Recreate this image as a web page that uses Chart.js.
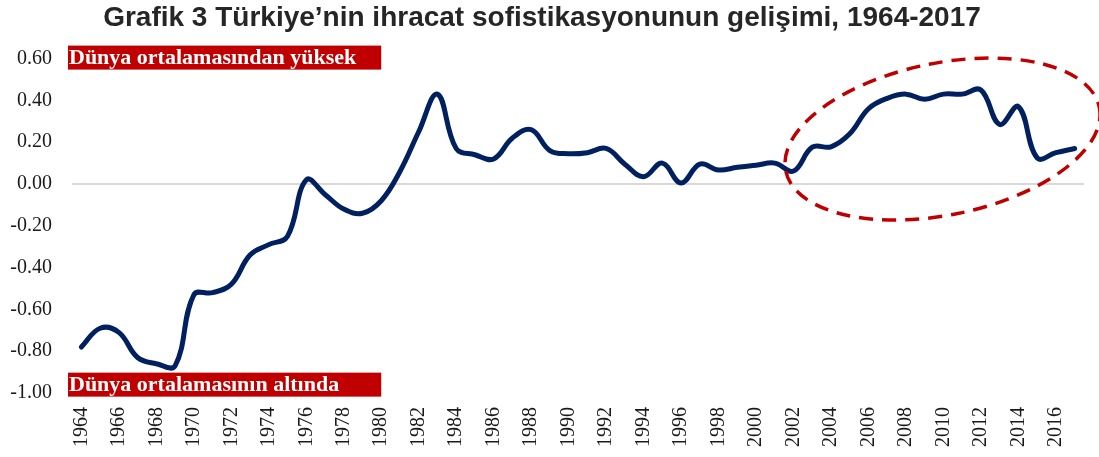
<!DOCTYPE html>
<html>
<head>
<meta charset="utf-8">
<script src="https://cdn.jsdelivr.net/npm/chart.js@4/dist/chart.umd.min.js"></script>
<style>
  html, body { margin: 0; padding: 0; background: #fff; }
  #wrap { width: 1099px; height: 457px; }
</style>
</head>
<body>
<div id="wrap"><canvas id="sofChart"></canvas></div>
<script>
// data
const years = ['1964','1965','1966','1967','1968','1969','1970','1971','1972','1973',
  '1974','1975','1976','1977','1978','1979','1980','1981','1982','1983',
  '1984','1985','1986','1987','1988','1989','1990','1991','1992','1993',
  '1994','1995','1996','1997','1998','1999','2000','2001','2002','2003',
  '2004','2005','2006','2007','2008','2009','2010','2011','2012','2013',
  '2014','2015','2016','2017'];
const sophistication = [-0.78, -0.69, -0.71, -0.83, -0.86, -0.87, -0.53, -0.52, -0.48, -0.34,
  -0.29, -0.25, 0.02, -0.05, -0.12, -0.14, -0.08, 0.06, 0.25, 0.43,
  0.17, 0.14, 0.12, 0.22, 0.26, 0.16, 0.145, 0.15, 0.17, 0.095,
  0.035, 0.10, 0.005, 0.095, 0.067, 0.08, 0.09, 0.10, 0.062, 0.176,
  0.178, 0.24, 0.36, 0.41, 0.43, 0.405, 0.43, 0.43, 0.45, 0.285,
  0.37, 0.125, 0.15, 0.17];
const yTicks = { min: -1.0, max: 0.6, step: 0.2 };
const titleText = 'Grafik 3 Türkiye’nin ihracat sofistikasyonunun gelişimi, 1964-2017';
const bandLabels = ['Dünya ortalamasından yüksek', 'Dünya ortalamasının altında'];

const red = '#c00000';
const navy = '#002060';

// red label boxes + dashed ellipse round the 2002-2017 part
const overlay = {
  id: 'overlay',
  afterDatasetsDraw(chart) {
    const { ctx, chartArea, scales: { x, y } } = chart;
    ctx.save();

    const left = chartArea.left - 4;
    const right = x.getPixelForValue(16);
    const boxH = 24;
    const centres = [y.getPixelForValue(0.6) - 1, y.getPixelForValue(-0.96)];
    ctx.font = 'bold 22px "Liberation Serif"';
    ctx.textBaseline = 'middle';
    centres.forEach((cy, i) => {
      ctx.fillStyle = red;
      ctx.fillRect(left, cy - boxH / 2, right - left, boxH);
      ctx.fillStyle = '#fff';
      ctx.fillText(bandLabels[i], left + 1, cy + 1);
    });

    // ellipse
    const cx = x.getPixelForValue(45.95);
    const cy = y.getPixelForValue(0.215);
    ctx.beginPath();
    ctx.ellipse(cx, cy, 160, 76, -0.2, 0, Math.PI * 2);
    ctx.strokeStyle = red;
    ctx.lineWidth = 3.5;
    ctx.setLineDash([14, 9]);
    ctx.stroke();
    ctx.restore();
  }
};

const ctx = document.getElementById('sofChart').getContext('2d');
new Chart(ctx, {
  type: 'line',
  data: {
    labels: years,
    datasets: [{
      data: sophistication,
      borderColor: navy,
      borderWidth: 5,
      borderCapStyle: 'round',
      borderJoinStyle: 'round',
      pointRadius: 0,
      tension: 0.4,
      fill: false
    }]
  },
  options: {
    responsive: true,
    maintainAspectRatio: false,
    animation: false,
    layout: { padding: { left: 0, right: 15, top: 0, bottom: 0 } },
    plugins: {
      legend: { display: false },
      tooltip: { enabled: false },
      title: {
        display: true,
        text: titleText,
        color: '#262626',
        font: { family: '"Liberation Sans", Arial', size: 28, weight: 'bold', lineHeight: 1.2 },
        padding: { top: 1, bottom: 24 }
      }
    },
    scales: {
      x: {
        offset: true,
        afterFit: (scale) => {
          scale.height = 64;
          scale.paddingLeft = 0;
          scale.paddingRight = 0;
        },
        grid: { display: false, drawTicks: false },
        border: { display: false },
        ticks: {
          autoSkip: false,
          minRotation: 90,
          maxRotation: 90,
          padding: 14,
          color: '#1a1a1a',
          font: { family: '"Liberation Serif"', size: 20 },
          callback: (v, i) => (i % 2 === 0 ? years[i] : '')
        }
      },
      y: {
        min: yTicks.min,
        max: yTicks.max,
        afterFit: (scale) => { scale.width = 72; },
        grid: {
          drawTicks: false,
          lineWidth: 2,
          color: (c) => (c.tick && Math.abs(c.tick.value) < 1e-9 ? '#d9d9d9' : 'rgba(0,0,0,0)')
        },
        border: { display: false },
        ticks: {
          stepSize: yTicks.step,
          padding: 20,
          color: '#1a1a1a',
          font: { family: '"Liberation Serif"', size: 20 },
          callback: (v) => Number(v).toFixed(2)
        }
      }
    }
  },
  plugins: [overlay]
});
</script>
</body>
</html>
